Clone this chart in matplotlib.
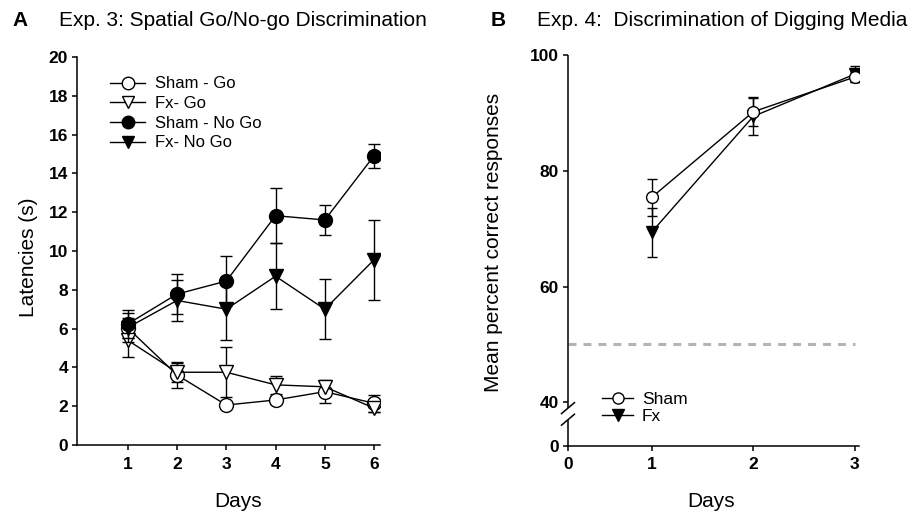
import matplotlib
matplotlib.use('Agg')
import matplotlib.pyplot as plt
from matplotlib.lines import Line2D

plt.rcParams['font.family'] = ['Liberation Sans', 'DejaVu Sans']

# ---------------- data: panel A ----------------
days_a = [1, 2, 3, 4, 5, 6]
sham_go = [6.03, 3.61, 2.06, 2.32, 2.75, 2.15]
sham_go_err = [0.5, 0.66, 0.15, 0.2, 0.58, 0.45]
fx_go = [5.4, 3.75, 3.75, 3.1, 3.0, 1.9]
fx_go_err = [0.85, 0.5, 1.3, 0.45, 0.25, 0.2]
sham_nogo = [6.24, 7.78, 8.45, 11.82, 11.6, 14.91]
sham_nogo_err = [0.7, 1.05, 1.3, 1.42, 0.77, 0.62]
fx_nogo = [6.05, 7.45, 7.0, 8.7, 7.0, 9.55]
fx_nogo_err = [0.75, 1.05, 1.6, 1.7, 1.55, 2.05]
yticks_a = [0, 2, 4, 6, 8, 10, 12, 14, 16, 18, 20]
labels_a = ['Sham - Go', 'Fx- Go', 'Sham - No Go', 'Fx- No Go']

# ---------------- data: panel B ----------------
days_b = [1, 2, 3]
sham_b = [75.4, 90.2, 96.2]
sham_b_err = [3.2, 2.4, 0.8]
fx_b = [69.4, 89.4, 96.7]
fx_b_err = [4.25, 3.3, 1.4]
chance_level = 50
yticks_b = [40, 60, 80, 100]
labels_b = ['Sham', 'Fx']

# axis-break geometry for panel B (the "0" sits below a broken axis)
Y0_POS = 32.54   # where "0" is drawn on the broken y axis
X0_POS = 0.177   # where "0" is drawn on the compressed x axis

W, H = 911, 514
fig = plt.figure(figsize=(W / 100, H / 100), dpi=100)

LW = 1.0
SPW = 1.1
TICK_FS = 12.5
LABEL_FS = 15


def style_axes(ax):
    for s in ('top', 'right'):
        ax.spines[s].set_visible(False)
    for s in ('left', 'bottom'):
        ax.spines[s].set_linewidth(SPW)
    ax.tick_params(direction='out', length=3.5, width=SPW, labelsize=TICK_FS)
    ax.tick_params(axis='x', pad=5)
    ax.tick_params(axis='y', pad=3)
    for lab in ax.get_xticklabels() + ax.get_yticklabels():
        lab.set_fontweight('bold')


# ---------------- panel A ----------------
axA = fig.add_axes([77 / W, 1 - 445 / H, 303 / W, 388 / H])
common = dict(color='k', lw=LW, elinewidth=LW, capsize=4.5, capthick=LW, mec='k', mew=1.0)
axA.errorbar(days_a, sham_go, yerr=sham_go_err, marker='o', mfc='white', ms=10, zorder=3, **common)
axA.errorbar(days_a, fx_go, yerr=fx_go_err, marker='v', mfc='white', ms=10, zorder=3, **common)
axA.errorbar(days_a, sham_nogo, yerr=sham_nogo_err, marker='o', mfc='k', ms=10, zorder=4, **common)
axA.errorbar(days_a, fx_nogo, yerr=fx_nogo_err, marker='v', mfc='k', ms=10, zorder=4, **common)
axA.set_xlim(-0.03, 6.12)
axA.set_ylim(0, 20)
axA.set_xticks(days_a)
axA.set_yticks(yticks_a)
style_axes(axA)

hA = [Line2D([], [], color='k', lw=LW, marker='o', mfc='white', mec='k', ms=9),
      Line2D([], [], color='k', lw=LW, marker='v', mfc='white', mec='k', ms=9),
      Line2D([], [], color='k', lw=LW, marker='o', mfc='k', mec='k', ms=9),
      Line2D([], [], color='k', lw=LW, marker='v', mfc='k', mec='k', ms=9)]
axA.legend(hA, labels_a, loc='upper left', bbox_to_anchor=(0.109, 0.95), frameon=False,
           fontsize=12, handlelength=2.1, handletextpad=0.6, labelspacing=0.28,
           borderpad=0, borderaxespad=0)

# ---------------- panel B ----------------
axB = fig.add_axes([568 / W, 1 - 445.5 / H, 291 / W, 390.5 / H])
axB.hlines(chance_level, X0_POS, 3.0, colors='#b4b4b4', lw=2.2, linestyles=(0, (2.6, 2.3)), zorder=1)
commonB = dict(color='k', lw=LW, elinewidth=LW, capsize=3.8, capthick=LW, mec='k', mew=1.0)
axB.errorbar(days_b, fx_b, yerr=fx_b_err, marker='v', mfc='k', ms=8.5, zorder=3, **commonB)
axB.errorbar(days_b, sham_b, yerr=sham_b_err, marker='o', mfc='white', ms=8.5, zorder=4, **commonB)
axB.set_xlim(X0_POS, 3.04)
axB.set_ylim(Y0_POS, 100)
axB.set_xticks([X0_POS] + days_b)
axB.set_xticklabels(['0'] + [str(d) for d in days_b])
axB.set_yticks([Y0_POS] + yticks_b)
axB.set_yticklabels(['0'] + [str(v) for v in yticks_b])
style_axes(axB)
axB.spines['left'].set_visible(False)
tr = axB.get_yaxis_transform()
axB.plot([0, 0], [39.0, 100], color='k', lw=SPW, transform=tr, clip_on=False, solid_capstyle='butt')
axB.plot([0, 0], [Y0_POS, 37.0], color='k', lw=SPW, transform=tr, clip_on=False, solid_capstyle='butt')
dx, dy = 0.0223, 0.95
for yb in (39.0, 37.0):
    axB.plot([-dx, dx], [yb - dy, yb + dy], color='k', lw=SPW, transform=tr, clip_on=False)

hB = [Line2D([], [], color='k', lw=LW, marker='o', mfc='white', mec='k', ms=8),
      Line2D([], [], color='k', lw=LW, marker='v', mfc='k', mec='k', ms=8)]
axB.legend(hB, labels_b, loc='upper left', bbox_to_anchor=(0.117, 0.137), frameon=False,
           fontsize=12.5, handlelength=1.8, handletextpad=0.5, labelspacing=0.08,
           borderpad=0, borderaxespad=0)

# ---------------- labels & titles ----------------
fig.text(12.5 / W, 1 - 21 / H, 'A', fontsize=LABEL_FS, fontweight='bold', va='center', ha='left')
fig.text(59 / W, 1 - 21 / H, 'Exp. 3: Spatial Go/No-go Discrimination', fontsize=LABEL_FS, va='center', ha='left')
fig.text(491 / W, 1 - 21 / H, 'B', fontsize=LABEL_FS, fontweight='bold', va='center', ha='left')
fig.text(537 / W, 1 - 21 / H, 'Exp. 4:  Discrimination of Digging Media', fontsize=LABEL_FS, va='center', ha='left')

fig.text(28 / W, 1 - 257 / H, 'Latencies (s)', fontsize=LABEL_FS, rotation=90, va='center', ha='center')
fig.text(493 / W, 1 - 242 / H, 'Mean percent correct responses', fontsize=LABEL_FS, rotation=90, va='center', ha='center')
fig.text(238 / W, 1 - 501.5 / H, 'Days', fontsize=LABEL_FS, va='center', ha='center')
fig.text(711.5 / W, 1 - 501.5 / H, 'Days', fontsize=LABEL_FS, va='center', ha='center')

fig.savefig('out.png', dpi=100)
